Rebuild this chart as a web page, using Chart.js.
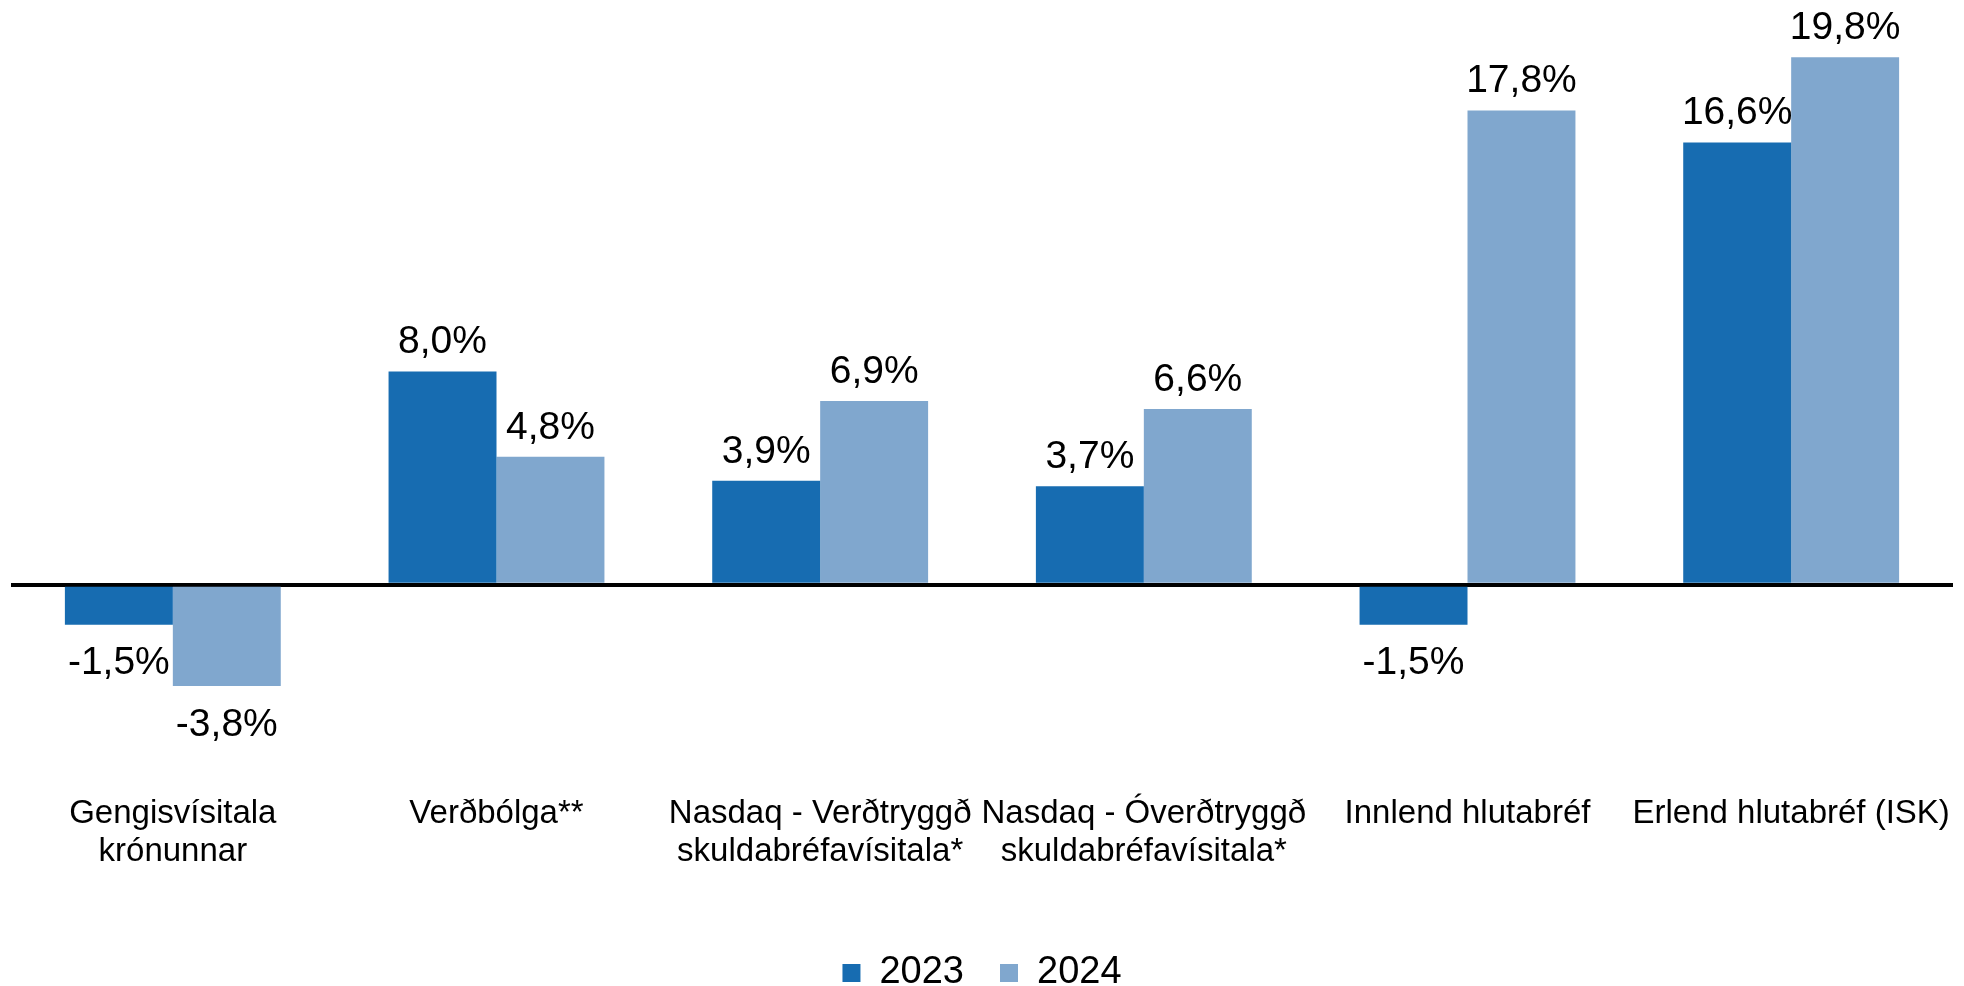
<!DOCTYPE html>
<html>
<head>
<meta charset="utf-8">
<script src="https://cdn.jsdelivr.net/npm/chart.js@4"></script>
<style>
  html, body { margin: 0; padding: 0; background: #fff; }
  #wrap { width: 1964px; height: 986px; position: relative; }
</style>
</head>
<body>
<div id="wrap"><canvas id="returnsChart"></canvas></div>
<script>
// flokkar og gildi (%)
const categories = [
    ['Gengisvísitala', 'krónunnar'],
    'Verðbólga**',
    ['Nasdaq - Verðtryggð', 'skuldabréfavísitala*'],
    ['Nasdaq - Óverðtryggð', 'skuldabréfavísitala*'],
    'Innlend hlutabréf',
    'Erlend hlutabréf (ISK)'
];
const seriesNames = ['2023', '2024'];
const values2023 = [-1.5, 8.0, 3.9, 3.7, -1.5, 16.6];
const values2024 = [-3.8, 4.8, 6.9, 6.6, 17.8, 19.8];
const yMin = -6;
const yMax = 21.5;

const FONT = "'Liberation Sans', Arial, sans-serif";

// Prósentumerki fyrir ofan/neðan súlur
const valueLabels = {
    id: 'valueLabels',
    afterDatasetsDraw(chart) {
        const ctx = chart.ctx;
        ctx.save();
        ctx.font = `39px ${FONT}`;
        ctx.fillStyle = '#000';
        ctx.textAlign = 'center';
        ctx.textBaseline = 'middle';
        chart.data.datasets.forEach((ds, di) => {
            const meta = chart.getDatasetMeta(di);
            meta.data.forEach((bar, i) => {
                const v = ds.data[i];
                const text = v.toFixed(1).replace('.', ',') + '%';
                const y = v >= 0 ? bar.y - 29 : bar.y + 39;
                ctx.fillText(text, bar.x, y);
            });
        });
        ctx.restore();
    }
};

const ctx = document.getElementById('returnsChart').getContext('2d');
new Chart(ctx, {
    type: 'bar',
    data: {
        labels: categories,
        datasets: [
            {
                label: seriesNames[0],
                data: values2023,
                backgroundColor: '#176CB1',
                categoryPercentage: 0.667,
                barPercentage: 1
            },
            {
                label: seriesNames[1],
                data: values2024,
                backgroundColor: '#80A7CE',
                categoryPercentage: 0.667,
                barPercentage: 1
            }
        ]
    },
    options: {
        responsive: true,
        maintainAspectRatio: false,
        animation: false,
        layout: {
            autoPadding: false,
            padding: { top: 12, left: 11, right: 11, bottom: -16 }
        },
        plugins: {
            tooltip: { enabled: false },
            legend: {
                position: 'bottom',
                labels: {
                    boxWidth: 18,
                    boxHeight: 18,
                    padding: 36,
                    color: '#000',
                    font: { family: FONT, size: 38, lineHeight: 1 }
                }
            }
        },
        scales: {
            x: {
                grid: { display: false, drawTicks: false },
                border: { display: false },
                ticks: {
                    color: '#000',
                    padding: 50,
                    maxRotation: 0,
                    autoSkip: false,
                    font: { family: FONT, size: 33, lineHeight: 1.15 }
                },
                afterFit: axis => {
                    axis.height = 173.5;
                    // engin aukabil til hliðar vegna breiðra merkja
                    axis.paddingLeft = 0;
                    axis.paddingRight = 0;
                }
            },
            y: {
                min: yMin,
                max: yMax,
                z: 1,
                border: { display: false },
                grid: {
                    drawTicks: false,
                    lineWidth: 4,
                    color: c => (c.tick && c.tick.value === 0 ? '#000' : 'rgba(0,0,0,0)')
                },
                ticks: { display: false, stepSize: 1 }
            }
        }
    },
    plugins: [valueLabels]
});
</script>
</body>
</html>
